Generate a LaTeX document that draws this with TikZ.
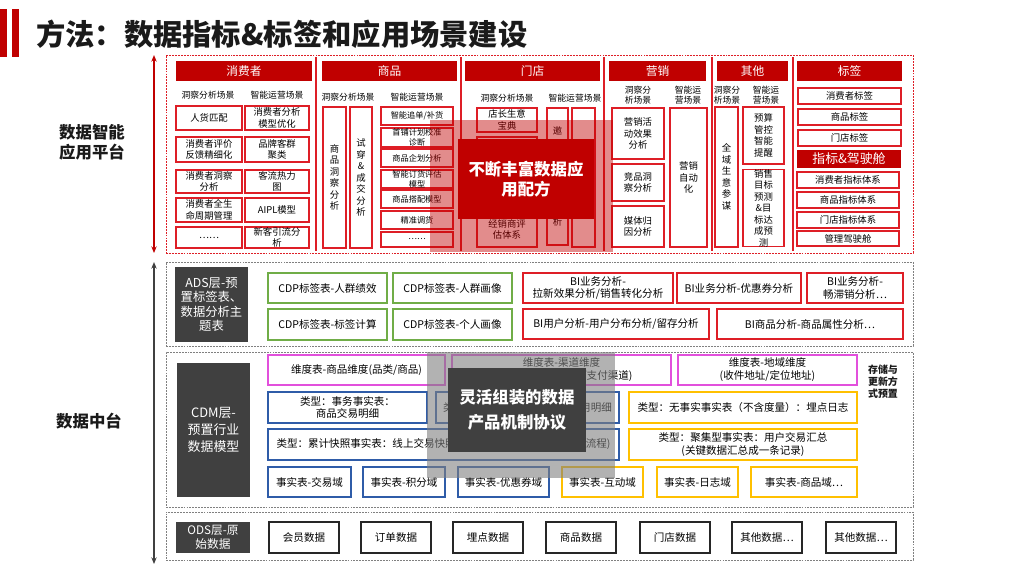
\documentclass[tikz,border=0pt]{standalone}
\usepackage{fontspec}
\setmainfont{Noto Sans CJK SC}
\usepackage{xcolor}
\usepackage{tikz}
\usetikzlibrary{arrows.meta,fit}

\definecolor{hdrred}{RGB}{192,0,0}
\definecolor{boxred}{RGB}{222,30,38}
\definecolor{cdpgreen}{RGB}{112,173,71}
\definecolor{dimpink}{RGB}{226,80,220}
\definecolor{factblue}{RGB}{47,92,168}
\definecolor{factyellow}{RGB}{255,192,0}
\definecolor{darkbox}{RGB}{64,64,64}
\definecolor{titleink}{RGB}{26,26,26}

\begin{document}
\begin{tikzpicture}[x=0.03cm, y=-0.03cm,
  area/.style args={#1:#2:#3:#4}{at={({(#1+#3)/2},{(#2+#4)/2})}, minimum width={(#3-#1)*0.03cm}, minimum height={(#4-#2)*0.03cm}},
  cell/.style={draw=#1, fill=white, line width=0.9pt, inner sep=0pt, align=center, font=\fontsize{8}{9.8}\selectfont},
  smalltxt/.style={font=\fontsize{7}{8.4}\selectfont},
  midtxt/.style={font=\fontsize{9}{11}\selectfont},
  head/.style={fill=hdrred, text=white, inner sep=0pt, font=\fontsize{10}{12}\selectfont},
  subhead/.style={align=center, inner sep=0pt, font=\fontsize{7.5}{9}\selectfont},
  panel/.style={draw=#1, line width=0.8pt, dash pattern=on 1.6pt off 0.9pt, inner sep=0pt},
  layerlbl/.style={fill=darkbox, text=white, inner sep=0pt, align=center, font=\fontsize{10.5}{12.3}\selectfont},
  veil/.style={fill=#1, fill opacity=0.45, inner sep=0pt},
  banner/.style={fill=#1, text=white, inner sep=0pt, align=center, font=\fontsize{14}{17}\selectfont\bfseries},
  sidelbl/.style={align=center, text=titleink, font=\fontsize{14}{17}\selectfont\bfseries},
  sidearrow/.style={{Stealth[length=2mm,width=1.6mm]}-{Stealth[length=2mm,width=1.6mm]}, line width=1.4pt, draw=#1},
  sepline/.style={draw=boxred, line width=1.1pt},
]
\useasboundingbox (0,0) rectangle (1024,576);

% 标题
\fill[hdrred] (0,9) rectangle (7,57);
\fill[hdrred] (12,9) rectangle (19,57);
\node[anchor=west, inner sep=0pt, text=titleink, font=\fontsize{25}{30}\selectfont\bfseries] (title) at (36,34) {方法：数据指标\&标签和应用场景建设};

% 左侧分层
\node[sidelbl] (appLbl) at (92,142) {数据智能\\应用平台};
\node[sidelbl] (midLbl) at (89,421) {数据中台};
\coordinate (appTop) at (154,55);
\coordinate (appBot) at (154,253);
\coordinate (midTop) at (154,262);
\coordinate (midBot) at (154,564);
\draw[sidearrow=hdrred] (appTop) -- (appBot);
\draw[sidearrow=darkbox] (midTop) -- (midBot);

% 应用平台
\node[panel=boxred, fit={(166,55)(913,253)}] (appPanel) {};
\draw[sepline] (316,57) -- (316,251);
\draw[sepline] (461,57) -- (461,251);
\draw[sepline] (604,57) -- (604,251);
\draw[sepline] (712,57) -- (712,251);
\draw[sepline] (793,57) -- (793,251);

\node[head, area=176:61:312:81] (hCons) {消费者};
\node[subhead] (consObs) at (208,95) {洞察分析场景};
\node[subhead] (consOps) at (277,95) {智能运营场景};
\node[cell=boxred, area=176:106:242:130] (cons1) {人货匹配};
\node[cell=boxred, area=245:106:309:130] (cons2) {消费者分析\\模型优化};
\node[cell=boxred, area=176:137:242:162] (cons3) {消费者评价\\反馈精细化};
\node[cell=boxred, area=245:137:309:162] (cons4) {品牌客群\\聚类};
\node[cell=boxred, area=176:170:242:193] (cons5) {消费者洞察\\分析};
\node[cell=boxred, area=245:170:309:193] (cons6) {客流热力\\图};
\node[cell=boxred, area=176:198:242:222] (cons7) {消费者全生\\命周期管理};
\node[cell=boxred, area=245:198:309:222] (cons8) {AIPL模型};
\node[cell=boxred, area=176:227:242:248] (cons9) {……};
\node[cell=boxred, area=245:227:309:248] (cons10) {新客引流分\\析};

\node[head, area=322:61:457:81] (hGoods) {商品};
\node[subhead] (goodsObs) at (348,97) {洞察分析场景};
\node[subhead] (goodsOps) at (417,97) {智能运营场景};
\node[cell=boxred, area=323:107:346:248] (goodsV1) {商\\品\\洞\\察\\分\\析};
\node[cell=boxred, area=350:107:372:248] (goodsV2) {试\\穿\\\&\\成\\交\\分\\析};
\node[cell=boxred, smalltxt, area=381:107:453:125] (goods1) {智能追单/补货};
\node[cell=boxred, smalltxt, area=381:128:453:147] (goods2) {首铺计划校准\\诊断};
\node[cell=boxred, smalltxt, area=381:149:453:167] (goods3) {商品企划分析};
\node[cell=boxred, smalltxt, area=381:170:453:188] (goods4) {智能订货评估\\模型};
\node[cell=boxred, smalltxt, area=381:190:453:208] (goods5) {商品搭配模型};
\node[cell=boxred, smalltxt, area=381:211:453:229] (goods6) {精准调货};
\node[cell=boxred, smalltxt, area=381:232:453:247] (goods7) {……};

\node[head, area=465:61:600:81] (hStore) {门店};
\node[subhead] (storeObs) at (507,98) {洞察分析场景};
\node[subhead] (storeOps) at (575,98) {智能运营场景};
\node[cell=boxred, area=477:108:537:132] (store1) {店长生意\\宝典};
\node[cell=boxred, area=477:137:537:172] (store2) {};
\node[cell=boxred, area=477:177:537:207] (store3) {};
\node[cell=boxred, area=477:212:537:247] (store4) {经销商评\\估体系};
\node[cell=boxred, font=\fontsize{8}{11}\selectfont, area=547:108:568:245] (storeV1) {邀\\约\\到\\店\\转\\化\\分\\析};
\node[cell=boxred, area=572:108:595:247] (storeV2) {};

\node[head, area=609:61:706:81] (hMkt) {营销};
\node[subhead] (mktObs) at (638,95) {洞察分\\析场景};
\node[subhead] (mktOps) at (688,95) {智能运\\营场景};
\node[cell=boxred, area=612:108:664:159] (mkt1) {营销活\\动效果\\分析};
\node[cell=boxred, area=612:164:664:201] (mkt2) {竞品洞\\察分析};
\node[cell=boxred, area=612:206:664:247] (mkt3) {媒体归\\因分析};
\node[cell=boxred, area=670:108:707:247] (mkt4) {营销\\自动\\化};

\node[head, area=717:61:788:81] (hOther) {其他};
\node[subhead] (otherObs) at (727,95) {洞察分\\析场景};
\node[subhead] (otherOps) at (766,95) {智能运\\营场景};
\node[cell=boxred, area=715:107:738:247] (otherV) {全\\域\\生\\意\\参\\谋};
\node[cell=boxred, area=743:107:784:164] (other1) {预算\\管控\\智能\\提醒};
\node[cell=boxred, area=743:170:784:246] (other2) {销售\\目标\\预测\\\&目\\标达\\成预\\测};

\node[head, area=797:61:902:81] (hTag) {标签};
\node[cell=boxred, area=798:88:901:104] (tag1) {消费者标签};
\node[cell=boxred, area=798:109:901:125] (tag2) {商品标签};
\node[cell=boxred, area=798:130:901:146] (tag3) {门店标签};
\node[head, font=\fontsize{11}{13}\selectfont, area=797:150:901:168] (hIndex) {指标\&驾驶舱};
\node[cell=boxred, area=797:172:899:188] (idx1) {消费者指标体系};
\node[cell=boxred, area=797:192:899:208] (idx2) {商品指标体系};
\node[cell=boxred, area=797:212:899:228] (idx3) {门店指标体系};
\node[cell=boxred, area=797:231:899:246] (idx4) {管理驾驶舱};

\node[veil=hdrred, area=430:120:613:252] (recipeVeil) {};
\node[banner=hdrred, area=458:139:594:219] (recipe) {不断丰富数据应\\用配方};

% ADS层
\node[panel=gray, fit={(166,262)(913,346)}] (adsPanel) {};
\node[layerlbl, area=175:267:248:342] (adsLbl) {ADS层-预\\置标签表、\\数据分析主\\题表};
\node[cell=cdpgreen, midtxt, area=268:273:387:303] (cdp1) {CDP标签表-人群绩效};
\node[cell=cdpgreen, midtxt, area=393:273:512:303] (cdp2) {CDP标签表-人群画像};
\node[cell=cdpgreen, midtxt, area=268:309:387:340] (cdp3) {CDP标签表-标签计算};
\node[cell=cdpgreen, midtxt, area=393:309:512:340] (cdp4) {CDP标签表-个人画像};
\node[cell=boxred, midtxt, area=523:273:673:303] (bi1) {BI业务分析-\\拉新效果分析/销售转化分析};
\node[cell=boxred, midtxt, area=677:273:801:303] (bi2) {BI业务分析-优惠券分析};
\node[cell=boxred, midtxt, area=807:273:903:303] (bi3) {BI业务分析-\\畅滞销分析…};
\node[cell=boxred, midtxt, area=523:309:709:339] (bi4) {BI用户分析-用户分布分析/留存分析};
\node[cell=boxred, midtxt, area=717:309:903:339] (bi5) {BI商品分析-商品属性分析…};

% CDM层
\node[panel=gray, fit={(166,352)(913,507)}] (cdmPanel) {};
\node[layerlbl, font=\fontsize{11}{14.5}\selectfont, area=177:363:250:497] (cdmLbl) {CDM层-\\预置行业\\数据模型};
\node[cell=dimpink, midtxt, area=268:355:445:385] (dim1) {维度表-商品维度(品类/商品)};
\node[cell=dimpink, midtxt, area=452:355:671:385] (dim2) {维度表-渠道维度\\(销售渠道/门店渠道/支付渠道)};
\node[cell=dimpink, midtxt, area=678:355:857:385] (dim3) {维度表-地域维度\\(收件地址/定位地址)};
\node[cell=factblue, midtxt, area=268:392:427:423] (fact1) {类型：事务事实表：\\商品交易明细};
\node[cell=factblue, midtxt, area=436:392:619:423] (fact2) {类型：事务事实表：优惠券使用明细};
\node[cell=factyellow, midtxt, area=629:392:857:423] (fact3) {类型：无事实事实表（不含度量）：埋点日志};
\node[cell=factblue, midtxt, area=268:429:619:460] (fact4) {类型：累计快照事实表：线上交易快照(下单、支付、发货、签收全流程)};
\node[cell=factyellow, midtxt, area=629:429:857:460] (fact5) {类型：聚集型事实表：用户交易汇总\\(关键数据汇总成一条记录)};
\node[cell=factblue, midtxt, area=268:467:351:497] (dom1) {事实表-交易域};
\node[cell=factblue, midtxt, area=363:467:445:497] (dom2) {事实表-积分域};
\node[cell=factblue, midtxt, area=458:467:549:497] (dom3) {事实表-优惠券域};
\node[cell=factyellow, midtxt, area=562:467:643:497] (dom4) {事实表-互动域};
\node[cell=factyellow, midtxt, area=657:467:738:497] (dom5) {事实表-日志域};
\node[cell=factyellow, midtxt, area=751:467:857:497] (dom6) {事实表-商品域…};
\node[align=center, text=titleink, font=\fontsize{8.5}{10.3}\selectfont\bfseries] (storeNote) at (883,382) {存储与\\更新方\\式预置};

\node[veil=gray, fill opacity=0.6, area=427:352:615:478] (protoVeil) {};
\node[banner=darkbox, font=\fontsize{14}{21}\selectfont\bfseries, area=448:368:586:452] (proto) {灵活组装的数据\\产品机制协议};

% ODS层
\node[panel=gray, fit={(166,512)(913,560)}] (odsPanel) {};
\node[layerlbl, font=\fontsize{10}{11.5}\selectfont, area=176:522:250:553] (odsLbl) {ODS层-原\\始数据};
\node[cell=black!85, midtxt, area=269:522:339:553] (ods1) {会员数据};
\node[cell=black!85, midtxt, area=361:522:431:553] (ods2) {订单数据};
\node[cell=black!85, midtxt, area=453:522:523:553] (ods3) {埋点数据};
\node[cell=black!85, midtxt, area=546:522:616:553] (ods4) {商品数据};
\node[cell=black!85, midtxt, area=640:522:710:553] (ods5) {门店数据};
\node[cell=black!85, midtxt, area=732:522:802:553] (ods6) {其他数据…};
\node[cell=black!85, midtxt, area=826:522:896:553] (ods7) {其他数据…};
\end{tikzpicture}
\end{document}
